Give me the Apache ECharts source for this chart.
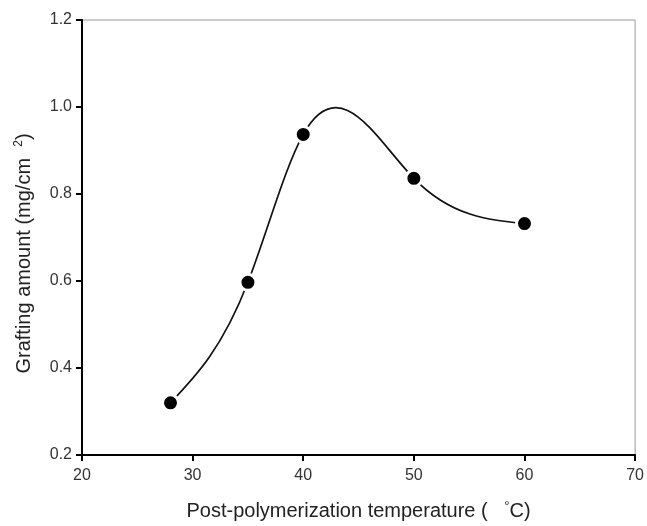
<!DOCTYPE html>
<html><head><meta charset="utf-8">
<script src="https://cdn.jsdelivr.net/npm/echarts@6/dist/echarts.min.js"></script>
<style>html,body{margin:0;padding:0;background:#fff}#c{width:647px;height:526px}</style>
</head><body><div id="c"></div>
<script>
var temps = [28, 35, 40, 50, 60];
var grafting = [0.32, 0.597, 0.937, 0.836, 0.732];
var xTicks = [20, 30, 40, 50, 60, 70];
var yTicks = [0.2, 0.4, 0.6, 0.8, 1.0, 1.2];

var pts = temps.map(function (t, i) { return [t, grafting[i]]; });

// natural cubic spline slopes at the data points (rendering helper)
function splineSlopes(xs, ys) {
  var n = xs.length, h = [], d = [], i;
  for (i = 0; i < n - 1; i++) { h.push(xs[i + 1] - xs[i]); d.push((ys[i + 1] - ys[i]) / h[i]); }
  var a = [], b = [], c = [], r = [];
  for (i = 0; i < n; i++) {
    if (i === 0 || i === n - 1) { a.push(0); b.push(1); c.push(0); r.push(0); }
    else { a.push(h[i - 1]); b.push(2 * (h[i - 1] + h[i])); c.push(h[i]); r.push(6 * (d[i] - d[i - 1])); }
  }
  for (i = 1; i < n; i++) { var m = a[i] / b[i - 1]; b[i] -= m * c[i - 1]; r[i] -= m * r[i - 1]; }
  var M = new Array(n); M[n - 1] = r[n - 1] / b[n - 1];
  for (i = n - 2; i >= 0; i--) M[i] = (r[i] - c[i] * M[i + 1]) / b[i];
  var s = [];
  for (i = 0; i < n - 1; i++) s.push(d[i] - h[i] * (2 * M[i] + M[i + 1]) / 6);
  s.push(d[n - 2] + h[n - 2] * (M[n - 2] + 2 * M[n - 1]) / 6);
  return s;
}
var slopes = splineSlopes(temps, grafting);

var chart = echarts.init(document.getElementById('c'));
var font = '"Liberation Sans", Arial, sans-serif';
chart.setOption({
  animation: false,
  backgroundColor: '#fff',
  grid: { left: 82, right: 9, top: 20, bottom: 69, show: true, borderColor: '#999', borderWidth: 1 },
  xAxis: {
    type: 'value', min: 20, max: 70, interval: 10,
    axisLine: { lineStyle: { color: '#000', width: 2 } },
    axisTick: { inside: false, length: 6, lineStyle: { color: '#000', width: 2 } },
    axisLabel: { color: '#333', fontFamily: font, fontSize: 16, margin: 13,
      formatter: function (v) { return xTicks.indexOf(v) >= 0 ? String(v) : ''; } },
    splitLine: { show: false },
    name: 'Post-polymerization temperature (   {s|°}C)',
    nameLocation: 'middle', nameGap: 45,
    nameTextStyle: { color: '#222', fontFamily: font, fontSize: 20,
      rich: { s: { fontSize: 13, padding: [0, 0, 9, 0], fontFamily: font, color: '#222' } } }
  },
  yAxis: {
    type: 'value', min: 0.2, max: 1.2, interval: 0.2,
    axisLine: { lineStyle: { color: '#000', width: 2 } },
    axisTick: { inside: false, length: 6, lineStyle: { color: '#000', width: 2 } },
    axisLabel: { color: '#333', fontFamily: font, fontSize: 16, margin: 10,
      formatter: function (v) { return v.toFixed(1); } },
    splitLine: { show: false },
    name: 'Grafting amount (mg/cm  {s|2})',
    nameLocation: 'middle', nameGap: 46,
    nameTextStyle: { color: '#222', fontFamily: font, fontSize: 20, padding: [0, 32, 0, 0],
      rich: { s: { fontSize: 12, padding: [0, 0, 11, 0], fontFamily: font, color: '#222' } } }
  },
  series: [
    { type: 'custom', coordinateSystem: 'cartesian2d', data: [pts[0]], z: 2,
      renderItem: function (params, api) {
        var p0 = api.coord(pts[0]);
        var d = 'M' + p0[0] + ' ' + p0[1];
        for (var i = 0; i < pts.length - 1; i++) {
          var h = temps[i + 1] - temps[i];
          var c1 = api.coord([temps[i] + h / 3, grafting[i] + slopes[i] * h / 3]);
          var c2 = api.coord([temps[i + 1] - h / 3, grafting[i + 1] - slopes[i + 1] * h / 3]);
          var p1 = api.coord(pts[i + 1]);
          d += ' C' + c1[0] + ' ' + c1[1] + ' ' + c2[0] + ' ' + c2[1] + ' ' + p1[0] + ' ' + p1[1];
        }
        return { type: 'path', shape: { pathData: d },
          style: { stroke: '#111', fill: null, lineWidth: 1.7 } };
      }
    },
    { type: 'scatter', data: pts, symbol: 'circle', symbolSize: 16,
      itemStyle: { color: '#000', borderColor: '#fff', borderWidth: 3, opacity: 1 }, z: 3 }
  ]
});
</script></body></html>
